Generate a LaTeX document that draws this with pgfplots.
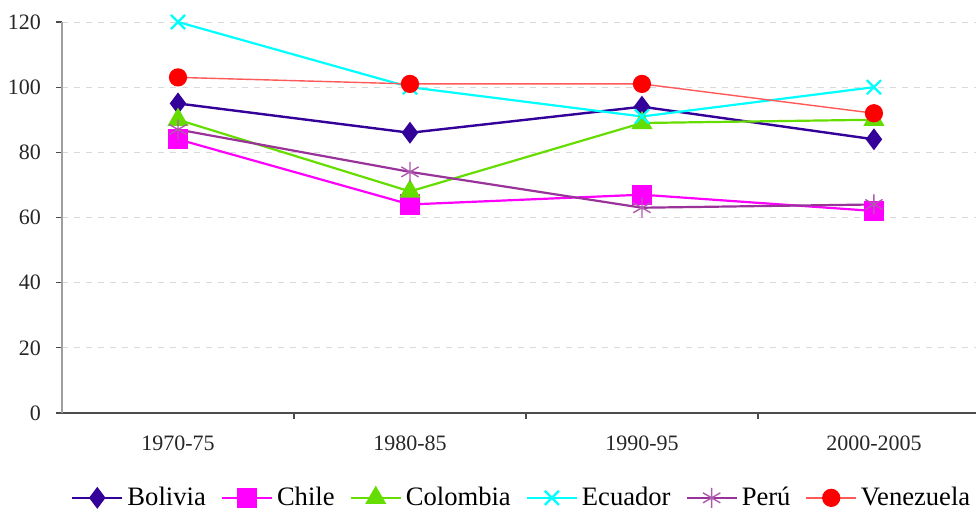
\documentclass[border=0pt]{standalone}
\usepackage{pgfplots}
\pgfplotsset{compat=1.18}
\usepackage{fontspec}
\setmainfont{Liberation Serif}

\definecolor{cBol}{HTML}{330099}
\definecolor{cChi}{HTML}{FF00FF}
\definecolor{cCol}{HTML}{66DD00}
\definecolor{cEcu}{HTML}{00FFFF}
\definecolor{cPer}{HTML}{993399}
\definecolor{cVen}{HTML}{FF0000}

\begin{document}
\begin{tikzpicture}[x=1pt,y=1pt]
\begin{axis}[
  at={(0,0)}, anchor=south west,
  scale only axis, width=457pt, height=195.5pt,
  xmin=-0.5, xmax=3.44, ymin=0, ymax=120,
  clip=false,
  axis lines*=left,
  x axis line style={black!70, line width=0.8pt},
  y axis line style={gray!75, line width=1.1pt},
  tick align=outside,
  major tick length=3pt,
  ytick={0,20,40,60,80,100,120},
  ymajorgrids,
  grid style={dashed, gray!30, line width=0.5pt},
  xtick={0.5,1.5,2.5},
  xticklabels={},
  x tick style={black!70, line width=0.6pt},
  y tick style={black!70, line width=0.6pt},
  extra x ticks={0,1,2,3},
  extra x tick labels={1970-75,1980-85,1990-95,2000-2005},
  extra x tick style={major tick length=0pt, xticklabel style={yshift=-8pt}},
  /pgf/number format/assume math mode=true,
  tick label style={font=\rmfamily\fontsize{11}{13}\selectfont, text=black!85},
  yticklabel style={xshift=-4pt},
  legend columns=6,
  legend style={at={(0.504,-0.217)}, anchor=center, draw=none,
    font=\rmfamily\fontsize{13.3}{15}\selectfont,
    /tikz/every even column/.append style={column sep=5.5pt}},
  legend image code/.code={%
    \draw[mark repeat=2,mark phase=2] plot coordinates {(0pt,0pt) (12.5pt,0pt) (25pt,0pt)};},
]
\addplot[cBol, line width=1.2pt, mark=diamond*, mark size=4.5pt, mark options={solid, fill=cBol}]
  coordinates {(0,95) (1,86) (2,94) (3,84)};
\addlegendentry{Bolivia}
\addplot[cChi, line width=1.1pt, mark=square*, mark size=4.5pt, mark options={solid, fill=cChi}]
  coordinates {(0,84) (1,64) (2,67) (3,62)};
\addlegendentry{Chile}
\addplot[cCol, line width=1.1pt, mark=triangle*, mark size=5pt, mark options={solid, fill=cCol}]
  coordinates {(0,90) (1,68) (2,89) (3,90)};
\addlegendentry{Colombia}
\addplot[cEcu, line width=1.1pt, mark=x, mark size=5pt, mark options={solid}]
  coordinates {(0,120) (1,100) (2,91) (3,100)};
\addlegendentry{Ecuador}
\addplot[cPer, line width=1.1pt, mark=asterisk, mark size=5pt, mark options={solid, cPer!80!white, line width=0.7pt}]
  coordinates {(0,87) (1,74) (2,63) (3,64)};
\addlegendentry{Per\'u}
\addplot[cVen!65!white, line width=0.7pt, mark=*, mark size=4.2pt, mark options={solid, draw=cVen, fill=cVen}]
  coordinates {(0,103) (1,101) (2,101) (3,92)};
\addlegendentry{Venezuela}
\end{axis}
\pgfresetboundingbox
\useasboundingbox (-31pt,-51pt) rectangle (457pt,206.5pt);
\end{tikzpicture}
\end{document}
